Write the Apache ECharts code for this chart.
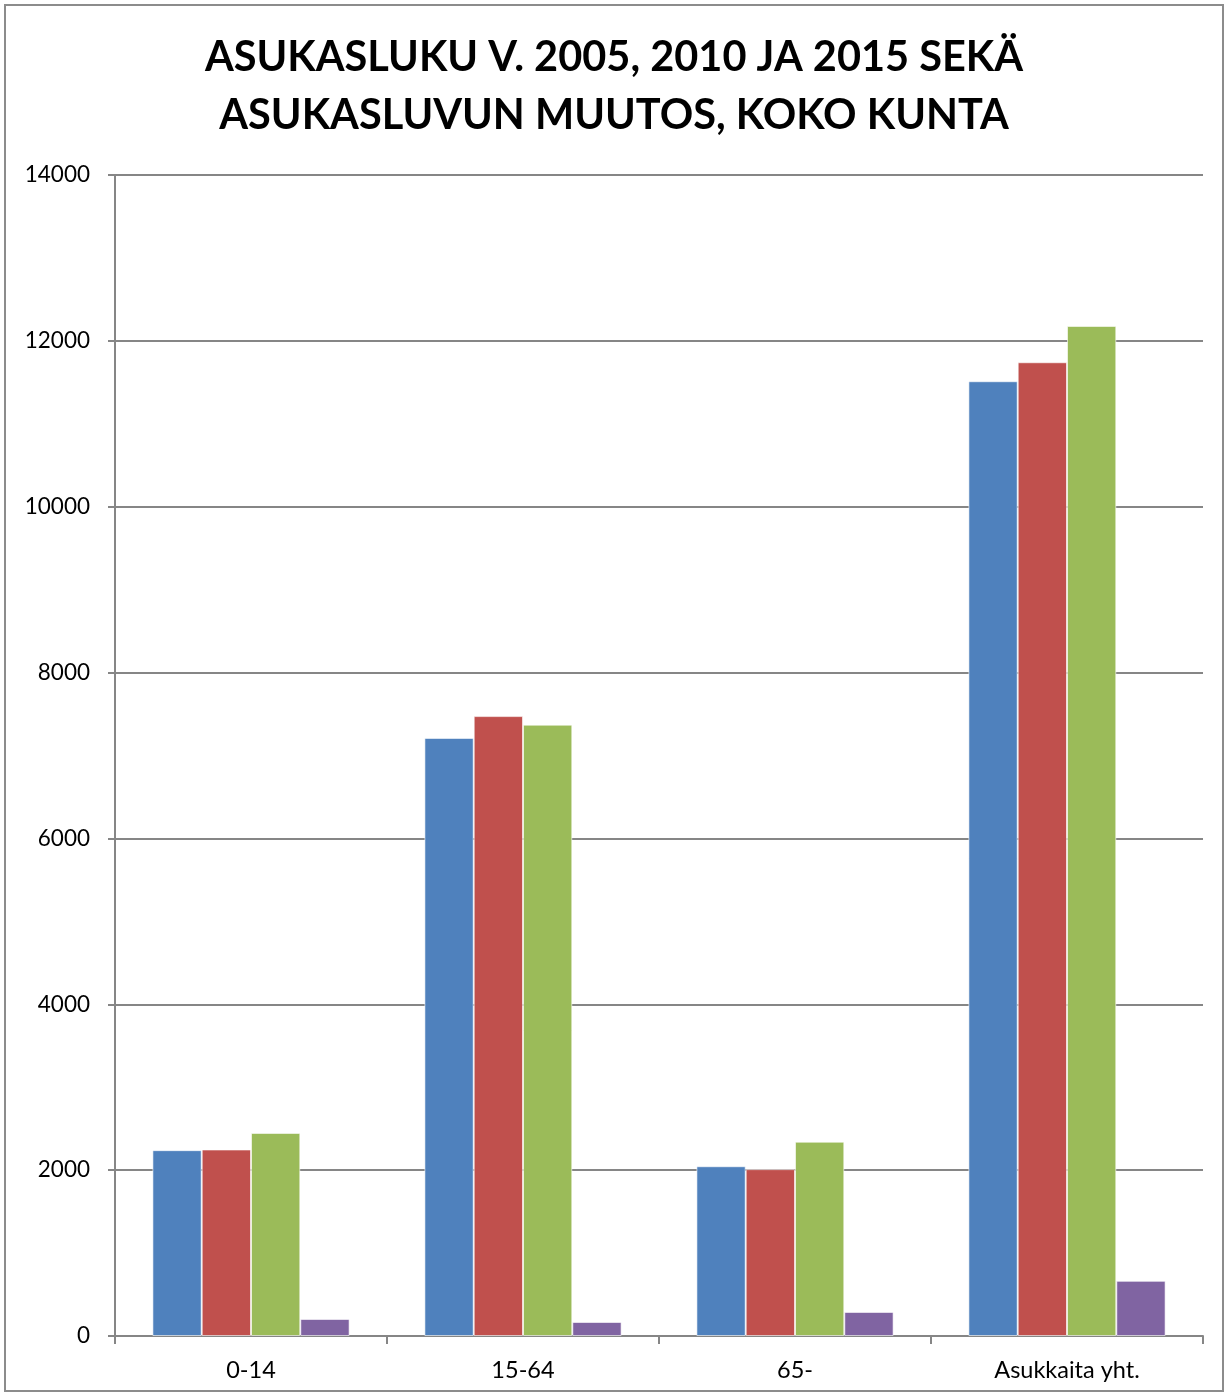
<!DOCTYPE html>
<html>
<head>
<meta charset="utf-8">
<script src="https://cdn.jsdelivr.net/npm/echarts@6/dist/echarts.min.js"></script>
<style>
  html, body { margin: 0; padding: 0; background: #fff; }
  #main { position: absolute; left: 4px; top: 4px; width: 1220px; height: 1388px; border: 2px solid #8c8c8c; box-sizing: border-box; }
</style>
</head>
<body>
<div id="main"></div>
<script>
// luokat ja sarjat
var categories = ['0-14', '15-64', '65-', 'Asukkaita yht.']
var v2005 = [2241, 7212, 2047, 11513]
var v2010 = [2249, 7475, 2012, 11742]
var v2015 = [2449, 7372, 2343, 12180]
var muutos = [205, 169, 290, 665]
var seriesNames = ['2005', '2010', '2015', 'Muutos']
var colors = ['#4f81bd', '#c0504d', '#9bbb59', '#8064a2']

var chart = echarts.init(document.getElementById('main'))

var mkSeries = function (name, data, i) {
  return {
    name: name,
    type: 'bar',
    data: data,
    barGap: '0%',
    barCategoryGap: '27.5%',
    itemStyle: { color: colors[i], borderColor: 'rgba(255,255,255,0.6)', borderWidth: 1 }
  }
}

var option = {
  animation: false,
  title: {
    text: 'ASUKASLUKU V. 2005, 2010 JA 2015 SEKÄ\nASUKASLUVUN MUUTOS, KOKO KUNTA',
    left: 'center',
    top: 18,
    textStyle: { fontFamily: 'Lato', fontWeight: 'bold', fontSize: 41.5, lineHeight: 58, color: '#000' }
  },
  grid: { left: 109, right: 19, top: 169, bottom: 54 },
  xAxis: {
    type: 'category',
    data: categories,
    axisLine: { lineStyle: { color: '#868686', width: 2 } },
    axisTick: { show: true, length: 8, lineStyle: { color: '#868686', width: 2 } },
    axisLabel: { color: '#000', fontFamily: 'Lato', fontSize: 23.5, margin: 22 }
  },
  yAxis: {
    type: 'value',
    min: 0,
    max: 14000,
    interval: 2000,
    axisLine: { show: true, lineStyle: { color: '#868686', width: 2 } },
    axisTick: { show: true, length: 7, lineStyle: { color: '#868686', width: 2 } },
    splitLine: { lineStyle: { color: '#868686', width: 2 } },
    axisLabel: { color: '#000', fontFamily: 'Lato', fontSize: 22.5, margin: 25, formatter: function (v) { return String(v) } }
  },
  series: [
    mkSeries(seriesNames[0], v2005, 0),
    mkSeries(seriesNames[1], v2010, 1),
    mkSeries(seriesNames[2], v2015, 2),
    mkSeries(seriesNames[3], muutos, 3)
  ]
}
chart.setOption(option)
</script>
</body>
</html>
